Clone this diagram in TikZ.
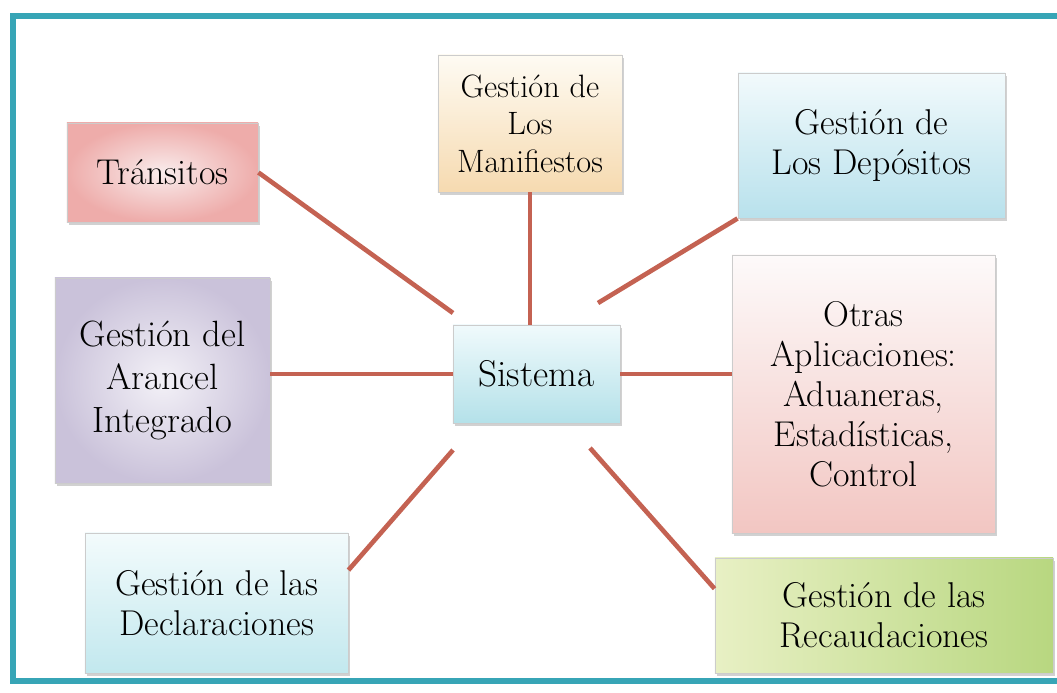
\documentclass[tikz,border=0pt]{standalone}
\usepackage{fontspec}
\usepackage{tikz}
\usetikzlibrary{shadows}

\definecolor{marco}{RGB}{55,165,182}
\definecolor{rojizo}{RGB}{196,98,82}

\begin{document}
\begin{tikzpicture}[x=0.025cm,y=-0.025cm]
            \tikzstyle{every node}+=[inner sep=0pt]
            \tikzstyle{caja}=[rectangle, align=center, draw=black!20, line width=0.6pt,
                drop shadow={shadow xshift=1.6pt,shadow yshift=-2.2pt,opacity=0.3,fill=black!60},
                font=\fontsize{25.5}{28.5}\selectfont]
            \tikzstyle{conector}=[draw=rojizo, line width=3.3pt]
            \useasboundingbox (0,0) rectangle (1057,692);
            \draw [marco, line width=3.6pt] (1057,16) -- (13,16) -- (13,681) -- (1057,681);
            % cajas
            \draw (536.5,374) node [caja, minimum width=4.175cm, minimum height=2.45cm,
                top color={rgb,255:red,240;green,250;blue,252}, bottom color={rgb,255:red,180;green,225;blue,233},
                font=\fontsize{26.5}{30}\selectfont] (sis) {Sistema};
            \draw (162.5,172.5) node [caja, minimum width=4.775cm, minimum height=2.475cm,
                inner color={rgb,255:red,249;green,236;blue,236}, outer color={rgb,255:red,238;green,172;blue,170}] (tra) {Tránsitos};
            \draw (530,123.5) node [caja, minimum width=4.6cm, minimum height=3.425cm,
                top color={rgb,255:red,254;green,251;blue,243}, bottom color={rgb,255:red,246;green,218;blue,176},
                font=\fontsize{23}{26.7}\selectfont] (man) {Gestión de\\Los\\Manifiestos};
            \draw (871.5,145.5) node [caja, minimum width=6.675cm, minimum height=3.625cm,
                top color={rgb,255:red,242;green,250;blue,252}, bottom color={rgb,255:red,184;green,225;blue,236}] (dep) {Gestión de\\Los Depósitos};
            \draw (162.5,380.5) node [caja, minimum width=5.375cm, minimum height=5.125cm,
                inner color={rgb,255:red,243;green,241;blue,247}, outer color={rgb,255:red,202;green,194;blue,218},
                font=\fontsize{26}{30.6}\selectfont] (ara) {Gestión del\\Arancel\\Integrado};
            \draw (863.5,394) node [caja, minimum width=6.575cm, minimum height=6.95cm,
                top color={rgb,255:red,253;green,250;blue,250}, bottom color={rgb,255:red,242;green,198;blue,194}] (otr) {Otras\\Aplicaciones:\\Aduaneras,\\Estadísticas,\\Control};
            \draw (216.5,603) node [caja, minimum width=6.575cm, minimum height=3.5cm,
                top color={rgb,255:red,243;green,251;blue,252}, bottom color={rgb,255:red,194;green,232;blue,238}] (dec) {Gestión de las\\Declaraciones};
            \draw (884,615.5) node [caja, minimum width=8.45cm, minimum height=2.875cm,
                left color={rgb,255:red,232;green,240;blue,196}, right color={rgb,255:red,184;green,215;blue,128}] (rec) {Gestión de las\\Recaudaciones};
            % extremos libres junto a Sistema
            \coordinate (p1) at (453,313);
            \coordinate (p2) at (598,303);
            \coordinate (p3) at (453,450);
            \coordinate (p4) at (590,448);
            % conectores
            \draw [conector] (tra.east) -- (p1);
            \draw [conector] (man.south) -- (man.south |- sis.north);
            \draw [conector] (dep.south west) -- (p2);
            \draw [conector] (sis.west -| ara.east) -- (sis.west);
            \draw [conector] (sis.east) -- (sis.east -| otr.west);
            \draw [conector] (dec.14) -- (p3);
            \draw [conector] (rec.171) -- (p4);
\end{tikzpicture}
\end{document}
